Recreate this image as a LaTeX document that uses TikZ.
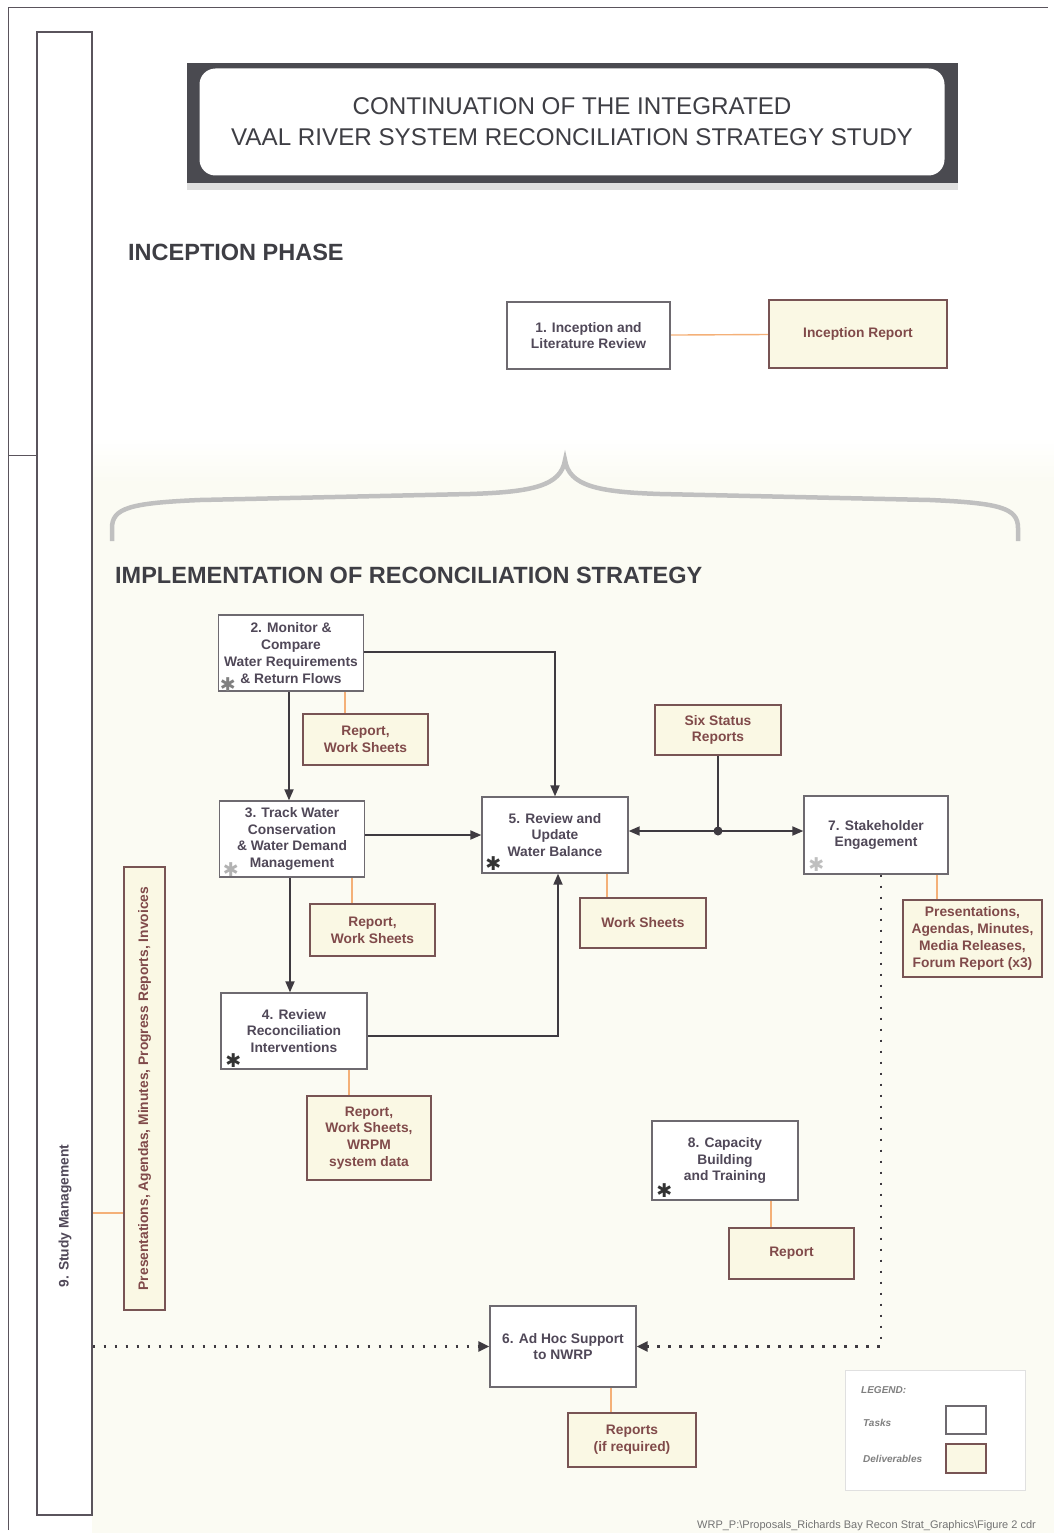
\documentclass[tikz,border=0pt]{standalone}
\usepackage{fontspec}
\setmainfont{Liberation Sans}
\newfontfamily\symbolfont{DejaVu Sans}
\usetikzlibrary{arrows.meta,shadows}
\definecolor{taskline}{RGB}{110,106,112}
\definecolor{tasktext}{RGB}{80,72,88}
\definecolor{delfill}{RGB}{250,248,228}
\definecolor{delline}{RGB}{120,84,84}
\definecolor{deltext}{RGB}{128,74,74}
\definecolor{linkorange}{RGB}{244,176,120}
\definecolor{flow}{RGB}{62,58,64}
\definecolor{cream}{RGB}{251,251,243}
\definecolor{bandgray}{RGB}{238,238,236}
\definecolor{bracegray}{RGB}{192,192,192}
\definecolor{titleframe}{RGB}{74,74,80}
\definecolor{headtext}{RGB}{62,62,68}
\definecolor{framegray}{RGB}{90,84,92}
\pgfdeclarelayer{bglayer}
\pgfdeclarelayer{edgelayer}
\pgfdeclarelayer{nodelayer}
\pgfsetlayers{bglayer,edgelayer,nodelayer,main}
\tikzstyle{task}=[rectangle, fill=white, draw=taskline, line width=1.3, align=center, text=tasktext, inner sep=0pt, font=\bfseries\fontsize{13.8}{16.8}\selectfont]
\tikzstyle{deliv}=[rectangle, fill=delfill, draw=delline, line width=1.6, align=center, text=deltext, inner sep=0pt, font=\bfseries\fontsize{13.8}{16.8}\selectfont]
\tikzstyle{link}=[-, draw=linkorange, line width=1.4]
\tikzstyle{arrow}=[-{Triangle[length=11pt,width=9pt]}, draw=flow, line width=1.8]
\tikzstyle{dotarrow}=[-{Triangle[length=11pt,width=10pt]}, draw=flow, line width=2.6, dash pattern=on 2.6pt off 8.4pt]
\tikzstyle{star}=[inner sep=0pt, font=\symbolfont\fontsize{19}{19}\selectfont]
\tikzstyle{heading}=[anchor=west, inner sep=0pt, text=headtext, font=\bfseries\fontsize{23.5}{28}\selectfont]
\tikzstyle{legendtext}=[anchor=west, inner sep=0pt, text=gray, font=\bfseries\itshape\fontsize{10}{12}\selectfont]

\begin{document}
\begin{tikzpicture}[x=1pt, y=-1pt]
    \useasboundingbox (0,0) rectangle (1054,1533);
    \begin{pgfonlayer}{bglayer}
        \fill[cream] (92,452) rectangle (1054,1533);
        \shade[top color=white, middle color=bandgray, bottom color=cream] (92,438) rectangle (1054,482);
        \draw[framegray, line width=1] (8,1530) -- (8,8) -- (1048,8);
        \draw[framegray, line width=1] (8,455) -- (37,455);
        % brace over the implementation phase
        \draw[bracegray, line width=4.5] (112,541) -- (112,528) .. controls (112,508) and (130,503) .. (200,500) -- (470,494) .. controls (532,492) and (561,486) .. (565,460) .. controls (569,486) and (598,492) .. (660,494) -- (930,500) .. controls (1000,503) and (1018,508) .. (1018,528) -- (1018,541);
    \end{pgfonlayer}

    \begin{pgfonlayer}{nodelayer}
        \node [rectangle, fill=titleframe, minimum width=771pt, minimum height=120pt, drop shadow={shadow xshift=0pt, shadow yshift=-7pt, opacity=.25}] (title) at (572,123) {};
        \node [rectangle, fill=white, rounded corners=16pt, minimum width=745pt, minimum height=107pt, align=center, text=headtext, font=\fontsize{24.2}{31}\selectfont] (titletxt) at (572,122) {CONTINUATION OF THE INTEGRATED\\VAAL RIVER SYSTEM RECONCILIATION STRATEGY STUDY};
        \node [heading] (inception) at (128,252) {INCEPTION PHASE};
        \node [heading] (implementation) at (115,575) {IMPLEMENTATION OF RECONCILIATION STRATEGY};

        \node [rectangle, fill=white, draw=framegray, line width=1.2, minimum width=55pt, minimum height=1483pt] (study) at (64.5,773.5) {};
        \node [rotate=90, text=tasktext, font=\bfseries\fontsize{13.8}{16}\selectfont] (studytxt) at (65,1216) {9. Study Management};

        \node [style=task, minimum width=163pt, minimum height=67pt] (tau1) at (588.5,335.5) {1. Inception and\\Literature Review};
        \node [style=deliv, minimum width=178pt, minimum height=68pt] (irep) at (858,334) {Inception Report};

        \node [style=task, minimum width=145pt, minimum height=76pt] (tau2) at (291,653) {2. Monitor \&\\Compare\\Water Requirements\\\& Return Flows};
        \node [style=task, minimum width=145pt, minimum height=76pt] (tau3) at (292,839) {3. Track Water\\Conservation\\\& Water Demand\\Management};
        \node [style=task, minimum width=146pt, minimum height=76pt] (tau4) at (294,1031) {4. Review\\Reconciliation\\Interventions};
        \node [style=task, minimum width=146pt, minimum height=76pt] (tau5) at (555,835) {5. Review and\\Update\\Water Balance};
        \node [style=task, minimum width=144pt, minimum height=78pt] (tau7) at (876,835) {7. Stakeholder\\Engagement};
        \node [style=task, minimum width=146pt, minimum height=79pt] (tau8) at (725,1160.5) {8. Capacity\\Building\\and Training};
        \node [style=task, minimum width=146pt, minimum height=81pt] (tau6) at (563,1346.5) {6. Ad Hoc Support\\to NWRP};

        \node [star, text=gray] at ([xshift=10pt,yshift=7pt]tau2.south west) {✱};
        \node [star, text=black!30] at ([xshift=12pt,yshift=8pt]tau3.south west) {✱};
        \node [star, text=black!80] at ([xshift=13pt,yshift=9pt]tau4.south west) {✱};
        \node [star, text=black!80] at ([xshift=12pt,yshift=10pt]tau5.south west) {✱};
        \node [star, text=black!25] at ([xshift=13pt,yshift=10pt]tau7.south west) {✱};
        \node [star, text=black!80] at ([xshift=13pt,yshift=10pt]tau8.south west) {✱};

        \node [style=deliv, minimum width=125pt, minimum height=51pt] (del2) at (365.5,739.5) {Report,\\Work Sheets};
        \node [style=deliv, minimum width=125pt, minimum height=52pt] (del3) at (372.5,930) {Report,\\Work Sheets};
        \node [style=deliv, minimum width=124pt, minimum height=84pt] (del4) at (369,1138) {Report,\\Work Sheets,\\WRPM\\system data};
        \node [style=deliv, minimum width=126pt, minimum height=50pt] (del5) at (643,923) {Work Sheets};
        \node [style=deliv, minimum width=126pt, minimum height=50pt] (status) at (718,730) {Six Status\\Reports};
        \node [style=deliv, minimum width=139pt, minimum height=77pt] (del7) at (972.5,938.5) {Presentations,\\Agendas, Minutes,\\Media Releases,\\Forum Report (x3)};
        \node [style=deliv, minimum width=125pt, minimum height=51pt] (del8) at (791.5,1253.5) {Report};
        \node [style=deliv, minimum width=128pt, minimum height=54pt] (del6) at (632,1440) {Reports\\(if required)};
        \node [style=deliv, minimum width=443pt, minimum height=41pt, rotate=90] (del9) at (144.5,1088.5) {Presentations, Agendas, Minutes, Progress Reports, Invoices};

        % legend
        \node [rectangle, fill=white, draw=black!12, line width=1, minimum width=180pt, minimum height=120pt] (legend) at (935,1430) {};
        \node [legendtext] (legendhead) at (861,1390) {LEGEND:};
        \node [legendtext] (legendtask) at (863,1423) {Tasks};
        \node [legendtext] (legenddel) at (863,1459) {Deliverables};
        \node [style=task, minimum width=40pt, minimum height=28pt] (keytask) at (966,1420) {};
        \node [style=deliv, minimum width=40pt, minimum height=29pt] (keydel) at (966,1458.5) {};

        \node [anchor=west, inner sep=0pt, text=black!55, font=\fontsize{11}{13}\selectfont] (footer) at (697,1526) {WRP\_P:\textbackslash Proposals\_Richards Bay Recon Strat\_Graphics\textbackslash Figure 2 cdr};
    \end{pgfonlayer}

    \begin{pgfonlayer}{edgelayer}
        \coordinate (bus) at (718,831);
        \draw [style=link] (tau1) to (irep);
        \draw [style=link] ([xshift=-20.5pt]del2.north) to ([xshift=-20.5pt]del2.north |- tau2.south);
        \draw [style=link] ([xshift=-20.5pt]del3.north) to ([xshift=-20.5pt]del3.north |- tau3.south);
        \draw [style=link] ([xshift=-20pt]del4.north) to ([xshift=-20pt]del4.north |- tau4.south);
        \draw [style=link] ([xshift=-36pt]del5.north) to ([xshift=-36pt]del5.north |- tau5.south);
        \draw [style=link] ([xshift=-35.5pt]del7.north) to ([xshift=-35.5pt]del7.north |- tau7.south);
        \draw [style=link] ([xshift=-20.5pt]del8.north) to ([xshift=-20.5pt]del8.north |- tau8.south);
        \draw [style=link] ([xshift=-21pt]del6.north) to ([xshift=-21pt]del6.north |- tau6.south);
        \draw [style=link] ([yshift=-124.5pt]del9.north) to ([yshift=-124.5pt]del9.north -| study.east);

        \draw [style=arrow] ([xshift=-2pt]tau2.south) to ([xshift=-2pt]tau2.south |- tau3.north);
        \draw [style=arrow] ([xshift=-2pt]tau3.south) to ([xshift=-2pt]tau3.south |- tau4.north);
        \draw [style=arrow] ([yshift=1pt]tau2.east) -| (tau5.north);
        \draw [style=arrow] (tau3.east |- tau5.west) to (tau5.west);
        \draw [style=arrow] ([yshift=-5pt]tau4.east) -| ([xshift=3pt]tau5.south);
        \draw [draw=flow, line width=1.8] (status) to (bus);
        \fill [flow] (bus) circle (4.5);
        \draw [style=arrow] (bus) to (bus -| tau5.east);
        \draw [style=arrow] (bus) to (bus -| tau7.west);

        \draw [style=dotarrow] ([xshift=5pt]tau7.south) |- (tau6.east);
        \draw [style=dotarrow] (study.east |- tau6.west) to (tau6.west);
    \end{pgfonlayer}
\end{tikzpicture}
\end{document}
